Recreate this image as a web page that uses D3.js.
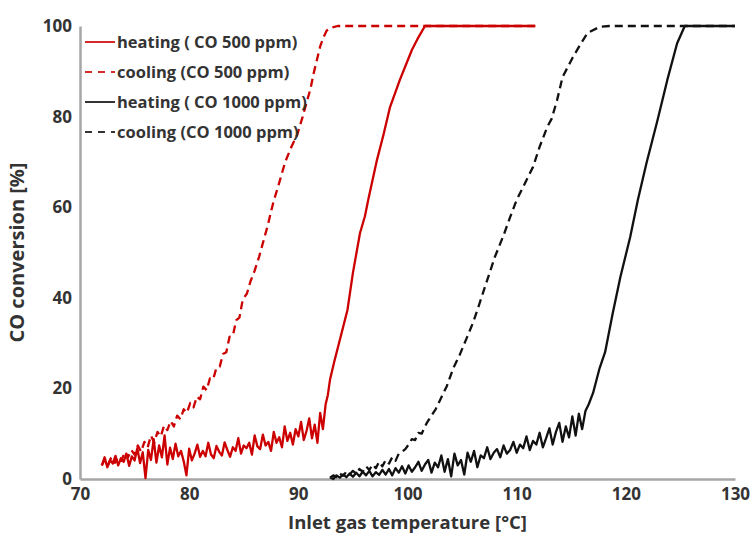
<!DOCTYPE html>
<html>
<head>
<meta charset="utf-8">
<script src="https://cdn.jsdelivr.net/npm/d3@7"></script>
<style>
  body { margin: 0; background: #fff; }
  text { font-family: "Open Sans", sans-serif; font-weight: 700; fill: #333; }
</style>
</head>
<body>
<div id="chart"></div>
<script>
// CO 500 ppm, heating ramp  [temperature °C, conversion %]
var heat500 = [
  [72.00,3.0],[72.25,4.8],[72.50,2.6],[72.75,4.2],[73.00,3.4],[73.25,5.1],[73.50,3.0],[73.75,4.6],
  [74.00,3.8],[74.25,5.6],[74.50,2.9],[74.75,5.0],[75.00,4.1],[75.25,6.8],[75.50,3.5],[75.75,5.9],
  [76.00,0.2],[76.25,6.4],[76.50,4.2],[76.75,8.8],[77.00,3.6],[77.25,7.4],[77.50,4.8],[77.75,9.6],
  [78.00,3.2],[78.25,6.9],[78.50,4.4],[78.75,7.8],[79.00,5.0],[79.25,6.2],[79.50,3.9],[79.75,0.8],
  [80.00,6.7],[80.25,4.1],[80.50,5.6],[80.75,7.6],[81.00,4.9],[81.25,6.2],[81.50,5.0],[81.75,8.0],
  [82.00,5.4],[82.25,4.6],[82.50,7.3],[82.75,6.0],[83.00,5.2],[83.25,8.1],[83.50,6.4],[83.75,4.9],
  [84.00,7.0],[84.25,6.2],[84.50,9.0],[84.75,5.6],[85.00,7.4],[85.25,6.8],[85.50,8.0],[85.75,5.4],
  [86.00,9.6],[86.25,7.2],[86.50,6.6],[86.75,9.8],[87.00,7.4],[87.25,8.2],[87.50,6.2],[87.75,10.4],
  [88.00,8.0],[88.25,9.2],[88.50,7.0],[88.75,11.6],[89.00,8.4],[89.25,10.2],[89.50,7.6],[89.75,11.0],
  [90.00,9.4],[90.25,12.6],[90.50,8.6],[90.75,10.6],[91.00,13.4],[91.25,9.0],[91.50,12.0],[91.75,8.0],
  [92.00,14.6],[92.25,11.0],[92.50,16.5],[92.70,18.5],[92.90,21.9],[93.30,26.0],[93.80,30.7],
  [94.50,37.3],[95.00,45.5],[95.65,54.3],[96.10,58.0],[96.40,61.6],[97.20,70.4],[97.80,76.0],
  [98.40,82.1],[99.30,88.1],[100.40,94.7],[101.00,97.5],[101.60,100],[111.70,100]
];

// CO 500 ppm, cooling ramp
var cool500 = [
  [72.0,3.0],[72.3,4.4],[72.6,3.2],[72.9,5.0],[73.2,3.6],[73.5,4.8],[73.8,4.0],[74.1,6.0],
  [74.4,4.8],[74.7,6.4],[75.0,5.4],[75.3,7.4],[75.6,6.0],[75.9,8.2],[76.2,7.0],[76.5,9.6],
  [76.8,8.0],[77.1,10.4],[77.4,9.4],[77.7,11.8],[78.0,10.8],[78.3,12.8],[78.6,11.6],[78.9,14.0],
  [79.2,13.2],[79.5,15.4],[79.8,14.6],[80.1,16.8],[80.4,15.8],[80.7,18.2],[81.0,17.6],[81.3,20.4],
  [81.6,19.6],[81.9,22.2],[82.2,22.0],[82.5,24.6],[82.8,24.8],[83.1,27.6],[83.4,28.0],[83.7,31.4],
  [84.0,31.6],[84.3,35.0],[84.6,35.6],[84.9,39.5],[85.3,41.0],[85.6,43.5],[86.0,46.0],[86.4,49.0],
  [86.8,52.5],[87.2,56.0],[87.7,61.0],[88.2,65.0],[88.8,70.0],[89.4,73.5],[89.9,76.0],[90.4,80.0],
  [90.8,83.5],[91.1,86.0],[91.4,89.5],[91.7,92.5],[92.0,95.5],[92.3,97.5],[92.6,99.0],[93.0,99.6],
  [93.6,100],[111.7,100]
];

// CO 1000 ppm, heating ramp
var heat1000 = [
  [92.9,0.4],[93.2,0.0],[93.5,0.8],[93.8,0.3],[94.1,1.0],[94.4,0.4],[94.7,1.2],[95.0,0.5],
  [95.3,1.4],[95.6,0.6],[95.9,1.6],[96.2,0.8],[96.5,1.8],[96.8,0.6],[97.1,1.5],[97.4,0.9],
  [97.7,2.0],[98.0,1.0],[98.3,2.2],[98.6,0.8],[98.9,2.4],[99.2,1.4],[99.5,2.8],[99.8,1.2],
  [100.1,3.0],[100.4,1.6],[100.7,2.6],[101.0,3.8],[101.3,1.8],[101.6,3.2],[101.9,4.2],[102.2,1.4],
  [102.5,3.6],[102.8,2.6],[103.1,5.2],[103.4,1.6],[103.7,4.4],[104.0,0.6],[104.3,5.6],[104.6,3.0],
  [104.9,4.2],[105.2,1.0],[105.5,5.8],[105.8,3.8],[106.1,6.2],[106.4,2.6],[106.7,5.2],[107.0,4.6],
  [107.3,7.0],[107.6,4.4],[107.9,5.8],[108.2,6.6],[108.5,4.8],[108.8,7.4],[109.1,5.6],[109.4,6.4],
  [109.7,8.2],[110.0,5.8],[110.3,7.6],[110.6,6.8],[110.9,9.4],[111.2,6.4],[111.5,8.4],[111.8,7.6],
  [112.1,10.2],[112.4,7.0],[112.7,9.0],[113.0,11.2],[113.3,7.6],[113.6,10.4],[113.9,12.4],[114.2,8.2],
  [114.5,11.6],[114.8,9.2],[115.1,13.8],[115.4,9.6],[115.7,14.4],[116.0,11.0],[116.3,15.0],
  [116.6,16.5],[117.0,19.0],[117.6,24.5],[118.1,28.0],[118.8,36.6],[119.5,44.6],[120.4,53.4],
  [121.1,61.6],[121.9,69.8],[122.9,79.2],[123.8,88.1],[124.7,96.2],[125.4,100],[130.0,100]
];

// CO 1000 ppm, cooling ramp
var cool1000 = [
  [92.9,0.3],[93.2,0.8],[93.5,0.4],[93.8,1.2],[94.1,0.7],[94.4,1.6],[94.7,1.0],[95.0,1.8],
  [95.3,1.2],[95.6,2.2],[95.9,1.6],[96.2,2.8],[96.5,2.0],[96.8,3.2],[97.1,2.4],[97.4,3.8],
  [97.7,2.8],[98.0,4.2],[98.3,3.4],[98.6,4.8],[98.9,4.0],[99.2,5.6],[99.5,6.0],[99.8,6.6],
  [100.1,7.6],[100.4,8.8],[100.7,8.6],[101.0,10.2],[101.3,10.0],[101.6,11.6],[101.8,12.5],
  [102.2,14.0],[102.6,15.5],[103.0,17.5],[103.6,20.5],[104.2,24.5],[104.8,27.5],[105.4,31.0],
  [106.0,34.5],[106.4,37.3],[107.3,43.9],[108.0,49.0],[108.8,53.8],[109.4,57.8],[110.0,61.6],
  [110.6,64.5],[111.5,68.9],[112.1,73.3],[112.8,77.7],[113.2,79.5],[113.7,83.6],[114.2,88.7],
  [115.1,92.9],[115.8,95.8],[116.5,98.5],[117.6,99.8],[118.5,100],[130.0,100]
];

var xTicks = [70, 80, 90, 100, 110, 120, 130];
var yTicks = [0, 20, 40, 60, 80, 100];

var seriesNames = ["heating ( CO 500 ppm)", "cooling (CO 500 ppm)", "heating ( CO 1000 ppm)", "cooling (CO 1000 ppm)"];
var seriesData = [heat500, cool500, heat1000, cool1000];
var seriesColors = ["#cc0000", "#cc0000", "#111111", "#111111"];
var seriesDash = [null, "8,5", null, "8,5"];

var svgWidth = 752;
var svgHeight = 540;
var margin = { top: 26, right: 17, bottom: 61, left: 80 };
var chartWidth = svgWidth - margin.left - margin.right;
var chartHeight = svgHeight - margin.top - margin.bottom;

var svg = d3.select("#chart")
  .append("svg")
  .attr("width", svgWidth)
  .attr("height", svgHeight);

var chartGroup = svg.append("g")
  .attr("transform", `translate(${margin.left}, ${margin.top})`);

var x = d3.scaleLinear().domain([70, 130]).range([0, chartWidth]);
var y = d3.scaleLinear().domain([0, 100]).range([chartHeight, 0]);

// axes, no tick marks
var xAxis = chartGroup.append("g")
  .attr("transform", `translate(0, ${chartHeight})`)
  .call(d3.axisBottom(x).tickValues(xTicks).tickSize(0).tickPadding(9));
var yAxis = chartGroup.append("g")
  .call(d3.axisLeft(y).tickValues(yTicks).tickSize(0).tickPadding(8));

[xAxis, yAxis].forEach(function(ax) {
  ax.select(".domain").attr("stroke", "#a6a6a6").attr("stroke-width", 2.5);
  ax.selectAll("text")
    .style("font-family", "'Open Sans', sans-serif")
    .style("font-weight", 700)
    .style("font-size", "17px")
    .attr("fill", "#333");
});

var line = d3.line()
  .x(d => x(d[0]))
  .y(d => y(d[1]));

seriesData.forEach(function(data, i) {
  chartGroup.append("path")
    .datum(data)
    .attr("fill", "none")
    .attr("stroke", seriesColors[i])
    .attr("stroke-width", 2.3)
    .attr("stroke-linejoin", "round")
    .attr("stroke-dasharray", seriesDash[i])
    .attr("d", line);
});

// legend
var legend = svg.append("g").attr("transform", "translate(85, 42)");
seriesNames.forEach(function(name, i) {
  var row = legend.append("g").attr("transform", `translate(0, ${i * 30})`);
  row.append("line")
    .attr("x1", 0).attr("x2", 30)
    .attr("stroke", i < 2 ? "#d42a2a" : "#333")
    .attr("stroke-width", 2)
    .attr("stroke-dasharray", seriesDash[i] ? "7,6" : null);
  row.append("text")
    .attr("x", 32)
    .attr("dy", "0.35em")
    .style("font-size", "16.5px")
    .text(name);
});

// axis titles
svg.append("text")
  .attr("x", margin.left + chartWidth / 2)
  .attr("y", 529)
  .attr("text-anchor", "middle")
  .style("font-size", "18.5px")
  .text("Inlet gas temperature [°C]");

svg.append("text")
  .attr("transform", `translate(24, ${margin.top + chartHeight / 2}) rotate(-90)`)
  .attr("text-anchor", "middle")
  .style("font-size", "20px")
  .text("CO conversion [%]");
</script>
</body>
</html>
